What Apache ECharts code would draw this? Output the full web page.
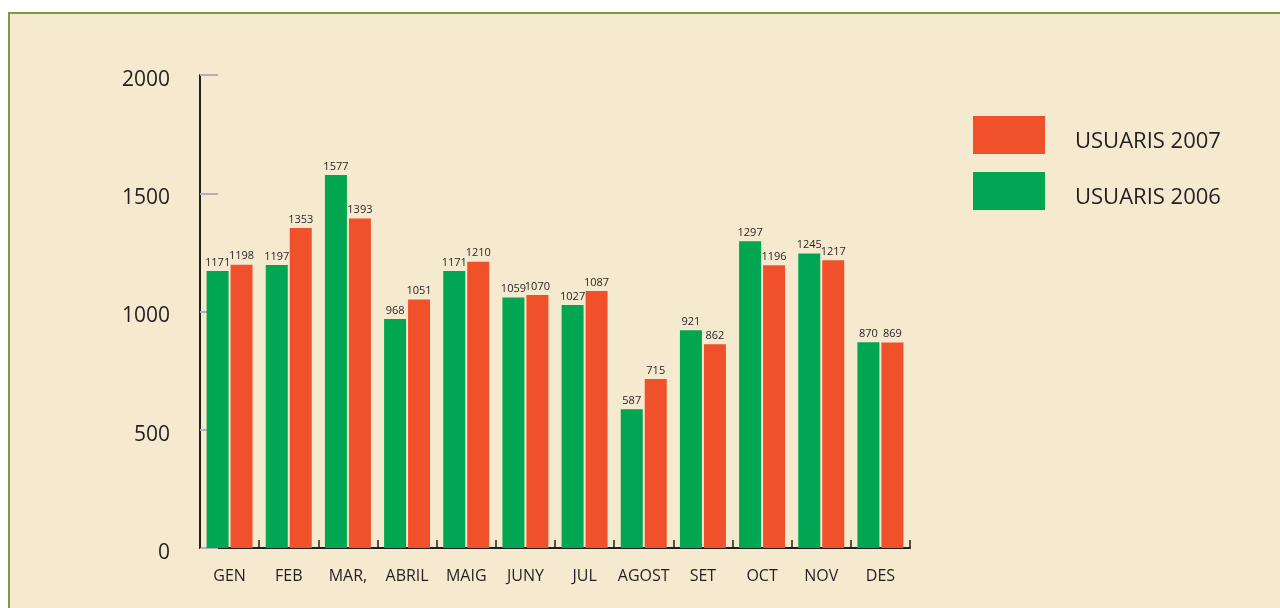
<!DOCTYPE html>
<html>
<head>
<meta charset="utf-8">
<script src="https://cdn.jsdelivr.net/npm/echarts@6/dist/echarts.min.js"></script>
<style>
html,body{margin:0;padding:0;background:#fff;width:1280px;height:608px;overflow:hidden;}
#frame{position:absolute;left:8px;top:12px;width:1290px;height:620px;background:#F5E9D0;border-top:2px solid #7A9A45;border-left:2px solid #7A9A45;}
#chart{position:absolute;left:0;top:0;width:1280px;height:608px;}
</style>
</head>
<body>
<div id="frame"></div>
<div id="chart"></div>
<script>
const categories = ['GEN','FEB','MAR,','ABRIL','MAIG','JUNY','JUL','AGOST','SET','OCT','NOV','DES'];
const usuaris2006 = [1171,1197,1577,968,1171,1059,1027,587,921,1297,1245,870];
const usuaris2007 = [1198,1353,1393,1051,1210,1070,1087,715,862,1196,1217,869];
const seriesNames = ['USUARIS 2006','USUARIS 2007'];

const FONT = 'Open Sans';
const chart = echarts.init(document.getElementById('chart'), null, {renderer:'canvas'});
chart.setOption({
  backgroundColor: 'transparent',
  animation: false,
  textStyle: {fontFamily: FONT},
  legend: {
    orient: 'vertical',
    left: 973, top: 116, padding: 0,
    itemWidth: 72, itemHeight: 38, itemGap: 18,
    icon: 'rect',
    data: [seriesNames[1], seriesNames[0]],
    formatter: name => '{a|' + name + '}',
    textStyle: {fontSize: 22, color: '#231f20', padding: [0,0,0,25], fontFamily: FONT,
      rich: {a: {fontSize: 22, color: '#231f20', fontFamily: FONT, padding: [13,0,0,0]}}}
  },
  grid: {left: 200, right: 370, top: 75, bottom: 60, containLabel: false},
  xAxis: {
    type: 'category',
    data: categories,
    boundaryGap: true,
    axisLine: {lineStyle: {color: '#231f20', width: 2}},
    axisTick: {show: true, inside: true, length: 8, interval: 0, alignWithLabel: false, lineStyle: {color: '#231f20', width: 1.5}},
    axisLabel: {fontSize: 16, color: '#231f20', margin: 20, interval: 0, fontFamily: FONT}
  },
  yAxis: {
    type: 'value',
    min: 0, max: 2000, interval: 500,
    axisLine: {show: true, lineStyle: {color: '#231f20', width: 2}},
    axisTick: {show: true, inside: true, length: 18, lineStyle: {color: '#b0b0b0', width: 2}},
    splitLine: {show: false},
    axisLabel: {fontSize: 21, color: '#231f20', margin: 30, fontFamily: FONT,
      formatter: v => '{a|' + v + '}',
      rich: {a: {fontSize: 21, color: '#231f20', fontFamily: FONT, padding: [10,0,0,0]}}}
  },
  series: [
    {
      name: seriesNames[0], type: 'bar', data: usuaris2006,
      barWidth: 22, barGap: '9%',
      itemStyle: {color: '#00A651'},
      label: {show: true, position: 'top', distance: 3, fontSize: 11, color: '#231f20', fontFamily: FONT}
    },
    {
      name: seriesNames[1], type: 'bar', data: usuaris2007,
      barWidth: 22, barGap: '9%',
      itemStyle: {color: '#F0512A'},
      label: {show: true, position: 'top', distance: 3, fontSize: 11, color: '#231f20', fontFamily: FONT}
    }
  ]
});
</script>
</body>
</html>
